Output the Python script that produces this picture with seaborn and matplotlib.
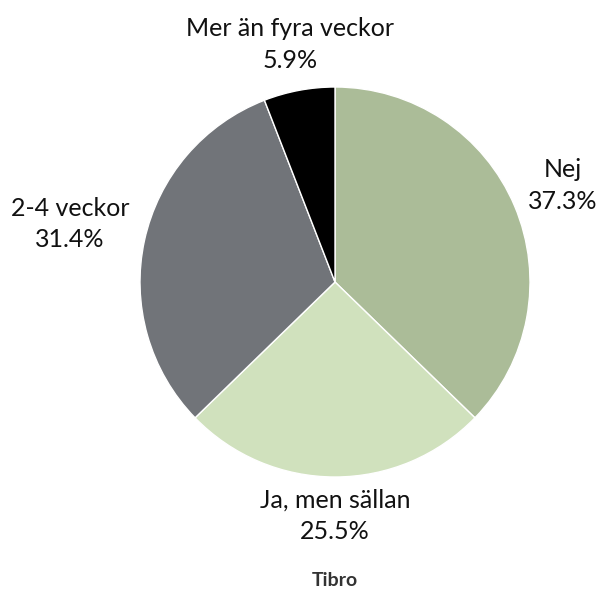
import numpy as np
import matplotlib
matplotlib.use("Agg")
import matplotlib.pyplot as plt
import seaborn as sns

# data
categories = ["Nej", "Ja, men sällan", "2-4 veckor", "Mer än fyra veckor"]
values = [37.3, 25.5, 31.4, 5.9]
colors = ["#abbc98", "#d0e1bd", "#717479", "#000000"]
label_dist = [1.27, 1.20, 1.39, 1.24]
title = "Tibro"

sns.set_theme(style="white")
plt.rcParams["font.family"] = ["Lato", "DejaVu Sans"]

fig = plt.figure(figsize=(6.02, 5.91), dpi=100)
W, H = 602, 591
cx, cy, r = 335, 282, 195
ax = fig.add_axes([(cx - r) / W, (H - cy - r) / H, 2 * r / W, 2 * r / H])

wedges, _ = ax.pie(values, colors=colors, startangle=90, counterclock=False,
                   radius=1, wedgeprops=dict(linewidth=1, edgecolor="white"))
ax.set_xlim(-1, 1)
ax.set_ylim(-1, 1)
ax.set_aspect("equal")
ax.axis("off")

for w, cat, v, d in zip(wedges, categories, values, label_dist):
    ang = np.deg2rad((w.theta1 + w.theta2) / 2)
    ax.text(d * np.cos(ang), d * np.sin(ang), f"{cat}\n{v}%",
            ha="center", va="center", fontsize=18, color="#111111",
            linespacing=1.45, clip_on=False)

fig.text(cx / W, 1 - 580 / H, title, ha="center", va="center",
         fontsize=14, fontweight="bold", color="#333333")

fig.savefig("out.png", dpi=100)
